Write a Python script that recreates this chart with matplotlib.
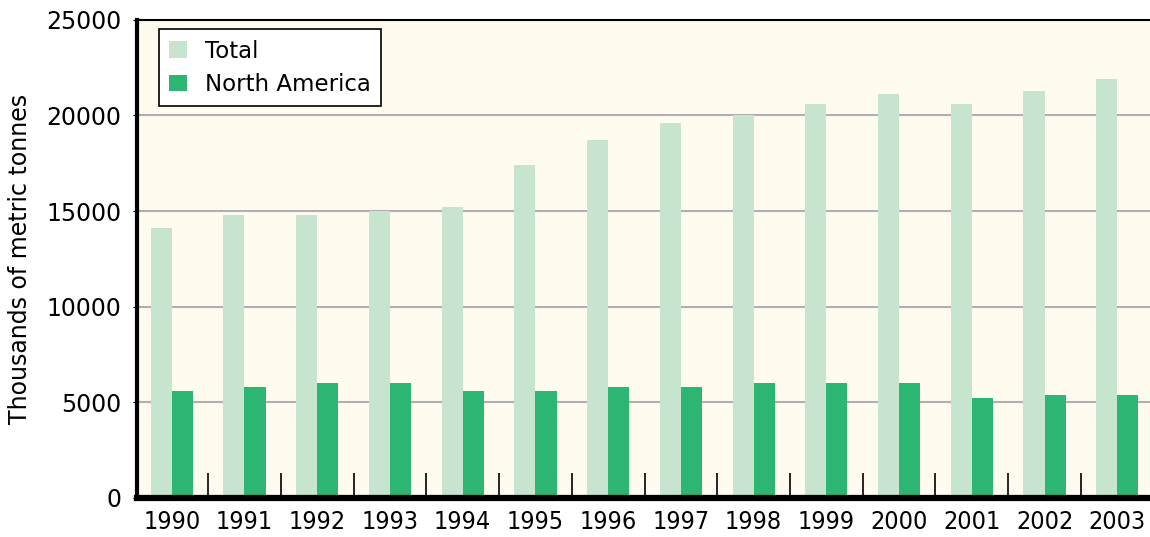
import numpy as np
import matplotlib
matplotlib.use("Agg")
import matplotlib.pyplot as plt
from matplotlib.ticker import FixedLocator

years = ["1990", "1991", "1992", "1993", "1994", "1995", "1996",
         "1997", "1998", "1999", "2000", "2001", "2002", "2003"]
total = [14100, 14800, 14800, 15000, 15200, 17400, 18700,
         19600, 20000, 20600, 21100, 20600, 21300, 21900]
north_america = [5600, 5800, 6000, 6000, 5600, 5600, 5800,
                 5800, 6000, 6000, 6000, 5200, 5400, 5400]

plt.rcParams['font.family'] = ['DejaVu Sans']

fig = plt.figure(figsize=(11.5, 5.37), dpi=100)
ax = fig.add_axes([0.119, 0.073, 0.881, 0.89])
ax.set_facecolor('#fffcef')

x = np.arange(len(years))
w = 0.29
ax.bar(x - w / 2, total, w, color='#c7e4cf', label='Total', zorder=2)
ax.bar(x + w / 2, north_america, w, color='#2cb573', label='North America', zorder=2)

ax.set_xlim(-0.48, 13.45)
ax.set_ylim(0, 25000)
ax.set_yticks(range(0, 25001, 5000))
ax.yaxis.grid(True, color='#b0b0b0', linewidth=1.5, zorder=1)
ax.set_axisbelow(True)

ax.set_xticks(x)
ax.set_xticklabels(years, fontsize=18, stretch='condensed')
ax.tick_params(axis='x', which='major', length=0, pad=9)
ax.xaxis.set_minor_locator(FixedLocator(x[:-1] + 0.5))
ax.tick_params(axis='x', which='minor', direction='in', length=18, width=1.2, color='black')
ax.tick_params(axis='y', labelsize=17, length=3, pad=8)

ax.set_ylabel('Thousands of metric tonnes', fontsize=17, labelpad=10)

ax.spines['bottom'].set_linewidth(4.5)
ax.spines['left'].set_linewidth(3)
ax.spines['top'].set_linewidth(1.5)
ax.spines['right'].set_visible(False)

leg = ax.legend(loc='upper left', bbox_to_anchor=(0.022, 0.98), fontsize=16.5,
                frameon=True, fancybox=False, edgecolor='black',
                handlelength=0.75, handleheight=0.75, borderpad=0.45,
                labelspacing=0.45, handletextpad=0.8, borderaxespad=0)
leg.get_frame().set_linewidth(1.2)
leg.get_frame().set_facecolor('white')
leg.get_frame().set_alpha(1)

fig.savefig('out.png', dpi=100)
